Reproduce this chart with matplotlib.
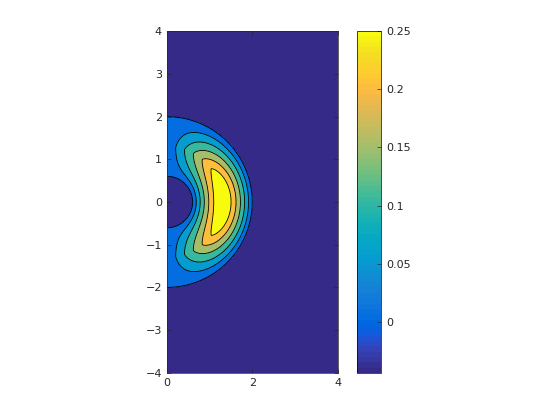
import numpy as np
import matplotlib
matplotlib.use("Agg")
import matplotlib.pyplot as plt
from matplotlib.colors import ListedColormap, Normalize
from matplotlib.cm import ScalarMappable

# MATLAB parula (R2014b), 64 entries
parula_data = [
    [0.2081, 0.1663, 0.5292], [0.2116, 0.1898, 0.5777], [0.2123, 0.2138, 0.6270],
    [0.2081, 0.2386, 0.6771], [0.1959, 0.2645, 0.7279], [0.1707, 0.2919, 0.7792],
    [0.1253, 0.3242, 0.8303], [0.0591, 0.3598, 0.8683], [0.0117, 0.3875, 0.8820],
    [0.0060, 0.4086, 0.8828], [0.0165, 0.4266, 0.8786], [0.0329, 0.4430, 0.8720],
    [0.0498, 0.4586, 0.8641], [0.0629, 0.4737, 0.8554], [0.0723, 0.4887, 0.8467],
    [0.0779, 0.5040, 0.8384], [0.0793, 0.5200, 0.8312], [0.0749, 0.5375, 0.8263],
    [0.0641, 0.5570, 0.8240], [0.0488, 0.5772, 0.8228], [0.0343, 0.5966, 0.8199],
    [0.0265, 0.6137, 0.8135], [0.0239, 0.6287, 0.8038], [0.0231, 0.6418, 0.7913],
    [0.0228, 0.6535, 0.7768], [0.0267, 0.6642, 0.7607], [0.0384, 0.6743, 0.7436],
    [0.0590, 0.6838, 0.7254], [0.0843, 0.6928, 0.7062], [0.1133, 0.7015, 0.6859],
    [0.1453, 0.7098, 0.6646], [0.1801, 0.7177, 0.6424], [0.2178, 0.7250, 0.6193],
    [0.2586, 0.7317, 0.5954], [0.3022, 0.7376, 0.5712], [0.3482, 0.7424, 0.5473],
    [0.3953, 0.7459, 0.5244], [0.4420, 0.7481, 0.5033], [0.4871, 0.7491, 0.4840],
    [0.5300, 0.7491, 0.4661], [0.5709, 0.7485, 0.4494], [0.6099, 0.7473, 0.4337],
    [0.6473, 0.7456, 0.4188], [0.6834, 0.7435, 0.4044], [0.7184, 0.7411, 0.3905],
    [0.7525, 0.7384, 0.3768], [0.7858, 0.7356, 0.3633], [0.8185, 0.7327, 0.3498],
    [0.8507, 0.7299, 0.3360], [0.8824, 0.7274, 0.3217], [0.9139, 0.7258, 0.3063],
    [0.9450, 0.7261, 0.2886], [0.9739, 0.7314, 0.2666], [0.9938, 0.7455, 0.2403],
    [0.9990, 0.7653, 0.2164], [0.9955, 0.7861, 0.1967], [0.9880, 0.8066, 0.1794],
    [0.9789, 0.8271, 0.1633], [0.9697, 0.8481, 0.1475], [0.9626, 0.8705, 0.1309],
    [0.9589, 0.8949, 0.1132], [0.9598, 0.9218, 0.0948], [0.9661, 0.9514, 0.0755],
    [0.9763, 0.9831, 0.0538],
]
parula = ListedColormap(parula_data, name="parula")

# field parameters (half annulus mode)
r_inner = 0.6
r_outer = 2.0
peak = 0.25
outside_value = -0.044
levels = [0.0, 0.04, 0.08, 0.12, 0.16, 0.20]
xticks = [0, 2, 4]
yticks = [-4, -3, -2, -1, 0, 1, 2, 3, 4]
cbar_ticks = [0, 0.05, 0.1, 0.15, 0.2, 0.25]

x = np.linspace(-0.05, 4, 900)
y = np.linspace(-4, 4, 1700)
X, Y = np.meshgrid(x, y)
R = np.hypot(X, Y)
T = np.arctan2(Y, X)
s = (R - r_inner) / (r_outer - r_inner)
radial = 1 - np.abs(2 * s - 1) ** 1.3
angular = np.clip(np.cos(T), 0.005, None)
Z = peak * radial * angular
inside = (s >= 0) & (s <= 1)
Z = np.where(inside, Z, outside_value)

fig = plt.figure(figsize=(5.6, 4.2), dpi=100)
ax = fig.add_axes([0.298, 0.112, 0.305, 0.814])

all_levels = [outside_value - 1] + levels + [peak + 1]
band_colors = [parula(k / (len(all_levels) - 2)) for k in range(len(all_levels) - 1)]
ax.contourf(X, Y, Z, levels=all_levels, colors=band_colors)
ax.contour(X, Y, Z, levels=levels, colors="k", linewidths=0.6)

ax.set_xlim(0, 4)
ax.set_ylim(-4, 4)
ax.set_xticks(xticks)
ax.set_yticks(yticks)
ax.tick_params(direction="in", length=3, width=0.5, labelsize=8,
               colors="#262626", top=True, right=True)
for sp in ax.spines.values():
    sp.set_linewidth(0.5)
    sp.set_color("#262626")

cax = fig.add_axes([0.6375, 0.112, 0.043, 0.814])
sm = ScalarMappable(norm=Normalize(outside_value, peak), cmap=parula)
cb = fig.colorbar(sm, cax=cax, ticks=cbar_ticks)
cb.ax.set_yticklabels(["0", "0.05", "0.1", "0.15", "0.2", "0.25"])
cb.ax.tick_params(direction="in", length=3, width=0.5, labelsize=8, colors="#262626")
cb.outline.set_linewidth(0.5)

fig.savefig("out.png", dpi=100)
